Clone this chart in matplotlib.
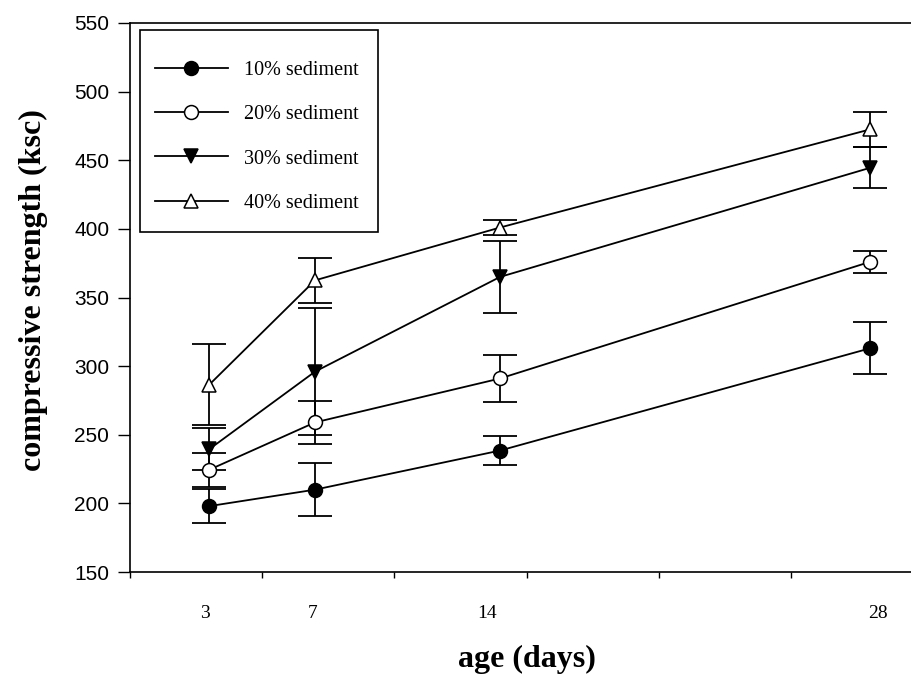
import matplotlib
matplotlib.use('Agg')
import matplotlib.pyplot as plt
import matplotlib.ticker as ticker
from matplotlib.patches import Rectangle

# data (ksc)
days = [3, 7, 14, 28]
day_labels = ['3', '7', '14', '28']
day_label_pos = [2.85, 6.9, 13.5, 28.3]

s10 = [198, 210, 238.5, 313]
e10 = [12.5, 19.5, 10.5, 19]
s20 = [224.5, 259, 291, 376]
e20 = [12.5, 15.5, 17, 7.8]
s30 = [239.5, 296, 365, 444.5]
e30 = [15.5, 46, 26, 15]
s40 = [286.5, 362.5, 401, 472.5]
e40 = [29.5, 16.5, 5.5, 13]

names = ['10% sediment', '20% sediment', '30% sediment', '40% sediment']
markers = ['o', 'o', 'v', '^']
faces = ['black', 'white', 'black', 'white']

serif = ['Liberation Serif', 'DejaVu Serif']
sans = ['Liberation Sans', 'DejaVu Sans']

fig = plt.figure(figsize=(9.12, 6.84), dpi=100)
ax = fig.add_axes([130 / 912, 1 - 572 / 684, 1 - 130 / 912, (572 - 23) / 684])

for vals, errs, m, fc, name in zip([s10, s20, s30, s40], [e10, e20, e30, e40],
                                   markers, faces, names):
    ax.errorbar(days, vals, yerr=errs, fmt='none', ecolor='black',
                elinewidth=1.3, capsize=12, capthick=1.3, zorder=2)
    ax.plot(days, vals, color='black', lw=1.3, marker=m, markersize=10,
            markerfacecolor=fc, markeredgecolor='black', markeredgewidth=1.1,
            label=name, zorder=3)

ax.set_xlim(0, (912 - 131) / 26.4)
ax.set_ylim(150, 550)

ax.spines['right'].set_visible(False)
for s in ['left', 'top', 'bottom']:
    ax.spines[s].set_linewidth(1.2)

ax.xaxis.set_major_locator(ticker.MultipleLocator(5))
ax.xaxis.set_major_formatter(ticker.NullFormatter())
ax.set_xticks(day_label_pos, labels=day_labels, minor=True)
ax.tick_params(axis='x', which='major', direction='out', length=4, width=1)
ax.tick_params(axis='x', which='minor', length=0, pad=24)
for lbl in ax.get_xticklabels(minor=True):
    lbl.set_fontfamily(serif)
    lbl.set_fontsize(14)

ax.yaxis.set_major_locator(ticker.MultipleLocator(50))
ax.tick_params(axis='y', direction='out', length=9, width=1, pad=6)
for lbl in ax.get_yticklabels():
    lbl.set_fontfamily(sans)
    lbl.set_fontsize(15)

ax.set_xlabel('age (days)', fontfamily=serif, fontweight='bold', fontsize=23)
ax.xaxis.set_label_coords(0.5077, -0.132)
ax.set_ylabel('compressive strength (ksc)', fontfamily=serif, fontweight='bold',
              fontsize=23)
ax.yaxis.set_label_coords(-0.105, 0.514)

# legend frame drawn as a plain box, entries placed inside it
ax.add_patch(Rectangle((0.0128, 0.6193), 0.3043, 0.3679, transform=ax.transAxes,
                       fill=True, facecolor='white', edgecolor='black',
                       lw=1.2, zorder=4))
leg = ax.legend(loc='upper left', bbox_to_anchor=(0.032, 0.931), frameon=False,
                prop={'family': serif, 'size': 14.5}, handlelength=3.6,
                handletextpad=0.8, labelspacing=1.25, borderpad=0,
                borderaxespad=0)
leg.set_zorder(5)

fig.savefig('out.png', dpi=100)
